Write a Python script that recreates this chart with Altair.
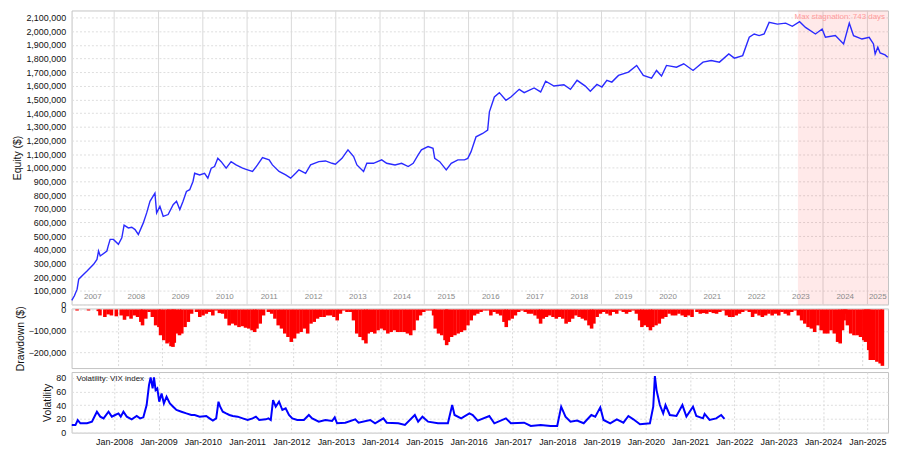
import altair as alt
import pandas as pd

# ---------------- data ----------------
# Equity curve: decimal year, value in thousands of $
EQ_T = [2007.043, 2007.103, 2007.164, 2007.200, 2007.312, 2007.388, 2007.536, 2007.612, 2007.648, 2007.686,
        2007.836, 2007.865, 2007.910, 2007.984, 2008.096, 2008.173, 2008.224, 2008.320, 2008.397, 2008.471,
        2008.545, 2008.657, 2008.733, 2008.807, 2008.919, 2008.957, 2009.031, 2009.105, 2009.217, 2009.330,
        2009.406, 2009.480, 2009.554, 2009.630, 2009.704, 2009.778, 2009.816, 2009.928, 2010.040, 2010.114,
        2010.190, 2010.265, 2010.339, 2010.415, 2010.527, 2010.639, 2010.751, 2010.899, 2011.011, 2011.123,
        2011.235, 2011.348, 2011.498, 2011.572, 2011.722, 2011.872, 2011.984, 2012.096, 2012.170, 2012.321,
        2012.433, 2012.619, 2012.769, 2012.917, 2012.993, 2013.141, 2013.276, 2013.404, 2013.478, 2013.628,
        2013.702, 2013.852, 2014.038, 2014.150, 2014.339, 2014.487, 2014.637, 2014.749, 2014.861, 2014.935,
        2015.085, 2015.197, 2015.235, 2015.348, 2015.496, 2015.608, 2015.758, 2015.908, 2015.982, 2016.056,
        2016.168, 2016.318, 2016.430, 2016.469, 2016.581, 2016.693, 2016.841, 2016.953, 2017.141, 2017.253,
        2017.478, 2017.626, 2017.738, 2017.926, 2018.150, 2018.298, 2018.448, 2018.634, 2018.747, 2018.897,
        2019.009, 2019.121, 2019.233, 2019.383, 2019.608, 2019.794, 2019.944, 2020.130, 2020.242, 2020.354,
        2020.466, 2020.691, 2020.854, 2021.065, 2021.289, 2021.475, 2021.661, 2021.872, 2021.998, 2022.186,
        2022.334, 2022.446, 2022.558, 2022.670, 2022.783, 2022.971, 2023.157, 2023.307, 2023.471, 2023.605,
        2023.830, 2023.980, 2024.054, 2024.278, 2024.464, 2024.592, 2024.688, 2024.877, 2025.040, 2025.137,
        2025.175, 2025.235, 2025.287, 2025.399, 2025.460]
EQ_V = [30, 64, 112, 185, 221, 245, 294, 330, 391, 355,
        391, 427, 476, 476, 440, 488, 580, 560, 565, 548,
        512, 597, 670, 755, 815, 670, 718, 645, 658, 730,
        755, 694, 755, 827, 840, 900, 960, 948, 960, 924,
        997, 1009, 1070, 1045, 997, 1045, 1021, 997, 985, 973,
        1021, 1075, 1058, 1021, 973, 948, 924, 960, 985, 960,
        1021, 1045, 1050, 1033, 1026, 1069, 1131, 1082, 1021, 973,
        1033, 1033, 1058, 1033, 1021, 1033, 1009, 1033, 1094, 1131,
        1155, 1142, 1070, 1045, 985, 1033, 1058, 1058, 1069, 1118,
        1227, 1251, 1276, 1409, 1518, 1550, 1494, 1518, 1574, 1550,
        1584, 1555, 1633, 1598, 1608, 1574, 1640, 1598, 1560, 1610,
        1591, 1640, 1627, 1676, 1700, 1749, 1676, 1656, 1712, 1671,
        1749, 1736, 1761, 1712, 1773, 1785, 1773, 1833, 1802, 1821,
        1955, 1979, 1967, 1979, 2064, 2051, 2058, 2035, 2069, 2027,
        1979, 2015, 1955, 1967, 1906, 2058, 1967, 1942, 1955, 1906,
        1833, 1882, 1840, 1826, 1809]

# Drawdown: decimal year, value in thousands of $
DD_T = [2007.051, 2007.312, 2007.537, 2007.574, 2007.686, 2007.761, 2007.836, 2007.948, 2008.060, 2008.135,
        2008.209, 2008.284, 2008.359, 2008.433, 2008.508, 2008.546, 2008.620, 2008.695, 2008.770, 2008.845,
        2008.919, 2008.957, 2009.031, 2009.106, 2009.143, 2009.196, 2009.241, 2009.271, 2009.330, 2009.390,
        2009.442, 2009.517, 2009.592, 2009.667, 2009.779, 2009.854, 2009.928, 2010.003, 2010.078, 2010.152,
        2010.227, 2010.302, 2010.377, 2010.451, 2010.526, 2010.601, 2010.676, 2010.750, 2010.825, 2010.900,
        2010.975, 2011.049, 2011.109, 2011.161, 2011.236, 2011.311, 2011.423, 2011.498, 2011.572, 2011.647,
        2011.722, 2011.797, 2011.871, 2011.946, 2012.021, 2012.096, 2012.170, 2012.245, 2012.320, 2012.395,
        2012.469, 2012.544, 2012.619, 2012.694, 2012.768, 2012.843, 2012.918, 2012.993, 2013.067, 2013.142,
        2013.217, 2013.291, 2013.366, 2013.441, 2013.516, 2013.590, 2013.650, 2013.703, 2013.777, 2013.852,
        2013.927, 2014.002, 2014.076, 2014.151, 2014.226, 2014.300, 2014.375, 2014.450, 2014.525, 2014.599,
        2014.674, 2014.749, 2014.824, 2014.898, 2014.973, 2015.048, 2015.123, 2015.197, 2015.235, 2015.309,
        2015.384, 2015.459, 2015.496, 2015.534, 2015.608, 2015.683, 2015.758, 2015.833, 2015.907, 2015.982,
        2016.057, 2016.131, 2016.206, 2016.281, 2016.356, 2016.430, 2016.505, 2016.579, 2016.654, 2016.729,
        2016.804, 2016.856, 2016.916, 2016.991, 2017.065, 2017.140, 2017.215, 2017.290, 2017.364, 2017.439,
        2017.514, 2017.588, 2017.641, 2017.701, 2017.775, 2017.850, 2017.925, 2018.000, 2018.074, 2018.149,
        2018.224, 2018.298, 2018.373, 2018.448, 2018.523, 2018.597, 2018.672, 2018.747, 2018.807, 2018.859,
        2018.934, 2019.009, 2019.083, 2019.158, 2019.233, 2019.308, 2019.382, 2019.457, 2019.532, 2019.606,
        2019.681, 2019.756, 2019.831, 2019.905, 2019.957, 2020.018, 2020.092, 2020.152, 2020.204, 2020.279,
        2020.354, 2020.429, 2020.503, 2020.578, 2020.653, 2020.727, 2020.802, 2020.877, 2020.952, 2021.026,
        2021.101, 2021.214, 2021.289, 2021.363, 2021.438, 2021.513, 2021.588, 2021.662, 2021.737, 2021.812,
        2021.887, 2021.961, 2022.036, 2022.111, 2022.186, 2022.260, 2022.335, 2022.410, 2022.485, 2022.559,
        2022.634, 2022.709, 2022.784, 2022.858, 2022.933, 2023.008, 2023.083, 2023.157, 2023.232, 2023.307,
        2023.381, 2023.456, 2023.531, 2023.606, 2023.680, 2023.755, 2023.830, 2023.905, 2023.979, 2024.054,
        2024.129, 2024.204, 2024.278, 2024.353, 2024.428, 2024.487, 2024.540, 2024.577, 2024.614, 2024.652,
        2024.727, 2024.801, 2024.876, 2024.951, 2025.026, 2025.063, 2025.100, 2025.138, 2025.175, 2025.250,
        2025.325, 2025.399, 2025.451]
DD_V = [-5, -5, -8, -28, -35, -23, -28, -32, -28, -48,
        -32, -43, -28, -35, -58, -74, -43, -12, -35, -74,
        -82, -120, -143, -158, -151, -171, -174, -155, -112, -120,
        -112, -82, -58, -20, -12, -35, -28, -20, -12, -28,
        -5, -17, -20, -43, -74, -66, -74, -82, -78, -85,
        -89, -97, -105, -89, -66, -28, -12, -20, -43, -74,
        -89, -112, -128, -151, -135, -112, -105, -89, -112, -66,
        -58, -43, -35, -35, -28, -28, -35, -51, -20, -5,
        -12, -12, -51, -112, -128, -143, -158, -112, -105, -112,
        -97, -89, -97, -112, -105, -97, -105, -105, -105, -112,
        -120, -97, -51, -28, -12, -5, -5, -28, -89, -112,
        -120, -143, -166, -151, -128, -120, -112, -105, -97, -74,
        -51, -28, -20, -12, -5, -5, -28, -12, -20, -28,
        -58, -82, -51, -43, -28, -12, -5, -12, -20, -20,
        -28, -43, -66, -43, -35, -28, -35, -43, -35, -43,
        -66, -58, -43, -28, -35, -43, -51, -74, -89, -66,
        -35, -20, -12, -20, -28, -12, -20, -5, -12, -20,
        -12, -5, -20, -51, -82, -74, -82, -97, -82, -74,
        -66, -43, -35, -20, -28, -28, -20, -28, -35, -28,
        -35, -12, -20, -17, -20, -12, -17, -20, -12, -5,
        -28, -35, -35, -28, -20, -12, -5, -12, -35, -20,
        -28, -35, -28, -20, -28, -20, -28, -12, -20, -28,
        -12, -5, -28, -51, -66, -82, -89, -105, -74, -97,
        -112, -112, -97, -112, -151, -158, -97, -51, -20, -74,
        -112, -120, -120, -128, -143, -151, -128, -189, -235, -235,
        -243, -251, -262]

# VIX index: decimal year, value
VIX_T = [2007.043, 2007.126, 2007.178, 2007.238, 2007.387, 2007.499, 2007.574, 2007.611, 2007.686, 2007.761,
         2007.873, 2007.948, 2008.022, 2008.097, 2008.149, 2008.209, 2008.284, 2008.396, 2008.508, 2008.583,
         2008.658, 2008.732, 2008.785, 2008.822, 2008.867, 2008.897, 2008.934, 2008.972, 2009.016, 2009.069,
         2009.121, 2009.181, 2009.256, 2009.330, 2009.405, 2009.517, 2009.629, 2009.741, 2009.816, 2009.928,
         2010.078, 2010.152, 2010.227, 2010.302, 2010.354, 2010.392, 2010.451, 2010.526, 2010.601, 2010.676,
         2010.788, 2010.900, 2011.012, 2011.124, 2011.199, 2011.274, 2011.423, 2011.483, 2011.535, 2011.587,
         2011.647, 2011.722, 2011.797, 2011.871, 2011.946, 2012.021, 2012.133, 2012.282, 2012.394, 2012.469,
         2012.618, 2012.768, 2012.917, 2012.977, 2013.029, 2013.216, 2013.441, 2013.515, 2013.777, 2013.889,
         2014.076, 2014.151, 2014.412, 2014.562, 2014.786, 2014.861, 2014.958, 2015.085, 2015.309, 2015.533,
         2015.630, 2015.683, 2015.832, 2016.019, 2016.094, 2016.206, 2016.467, 2016.580, 2016.841, 2016.953,
         2017.252, 2017.402, 2017.626, 2017.850, 2017.999, 2018.089, 2018.186, 2018.299, 2018.448, 2018.598,
         2018.770, 2018.859, 2018.972, 2019.046, 2019.196, 2019.345, 2019.495, 2019.607, 2019.719, 2019.869,
         2020.093, 2020.168, 2020.205, 2020.242, 2020.317, 2020.392, 2020.444, 2020.541, 2020.691, 2020.825,
         2020.915, 2021.064, 2021.139, 2021.289, 2021.326, 2021.438, 2021.588, 2021.700, 2021.774]
VIX_V = [11.2, 11.0, 18.4, 13.6, 13.6, 16.0, 25.7, 30.5, 23.3, 20.8,
         30.5, 23.3, 25.7, 28.0, 23.3, 30.5, 23.3, 19.4, 24.2, 20.8,
         22.3, 40.2, 69.3, 80.5, 64.5, 80.5, 62.0, 64.5, 45.1, 57.2,
         42.7, 52.4, 42.7, 37.8, 33.0, 30.5, 28.0, 25.7, 25.7, 23.3,
         24.2, 20.8, 17.5, 20.8, 45.1, 37.8, 30.5, 28.0, 25.7, 24.2,
         23.3, 20.8, 18.4, 20.8, 23.3, 18.4, 19.4, 20.8, 18.4, 47.5,
         37.8, 45.1, 33.0, 35.4, 25.7, 20.8, 18.4, 18.4, 25.7, 20.8,
         16.0, 18.4, 17.0, 22.3, 13.6, 14.5, 19.4, 14.5, 18.4, 13.6,
         20.8, 14.5, 13.6, 11.2, 25.7, 16.0, 23.3, 16.0, 13.6, 13.6,
         40.2, 25.7, 20.8, 28.0, 25.7, 17.5, 24.2, 13.6, 20.8, 13.6,
         14.5, 9.7, 11.2, 9.7, 9.7, 37.8, 23.3, 16.0, 17.5, 13.6,
         25.7, 23.3, 36.8, 18.4, 13.6, 19.4, 14.5, 24.2, 19.4, 12.1,
         13.6, 37.8, 82.4, 62.0, 40.2, 28.0, 40.2, 25.7, 24.2, 40.2,
         23.3, 37.8, 24.2, 20.8, 27.2, 18.4, 20.8, 25.7, 19.9]

YEARS = list(range(2007, 2026))
X_START = (2007, 1, 15)
X_END = (2025, 6, 20)
STAG_START = (2023, 6, 8)
STAG_LABEL = "Max stagnation: 743 days"
VIX_LABEL = "Volatility: VIX index"


def dec_to_ts(y):
    yi = int(y)
    a = pd.Timestamp(year=yi, month=1, day=1)
    b = pd.Timestamp(year=yi + 1, month=1, day=1)
    return (a + (b - a) * (y - yi)).floor("h")


def ts(t):
    return pd.Timestamp(year=t[0], month=t[1], day=t[2])


eq_df = pd.DataFrame({"t": [dec_to_ts(v) for v in EQ_T], "v": [v * 1000 for v in EQ_V]})
dd_df = pd.DataFrame({"t": [dec_to_ts(v) for v in DD_T], "v": [v * 1000 for v in DD_V]})
vix_df = pd.DataFrame({"t": [dec_to_ts(v) for v in VIX_T], "v": VIX_V})

x0, x1 = ts(X_START), ts(X_END)
mids = []
for yr in YEARS:
    a = max(pd.Timestamp(year=yr, month=1, day=1), x0)
    b = min(pd.Timestamp(year=yr + 1, month=1, day=1), x1)
    mids.append(a + (b - a) / 2)
year_df = pd.DataFrame({"t": mids, "label": [str(y) for y in YEARS]})
jan_df = pd.DataFrame({"t": [pd.Timestamp(year=y, month=1, day=1) for y in YEARS[1:]]})
stag_df = pd.DataFrame({"s": [ts(STAG_START)], "e": [x1], "label": [STAG_LABEL]})

W = 822
H_EQ, H_DD, H_VX = 296, 60, 61

xdomain = [alt.DateTime(year=X_START[0], month=X_START[1], date=X_START[2]),
           alt.DateTime(year=X_END[0], month=X_END[1], date=X_END[2])]
xscale = alt.Scale(domain=xdomain, nice=False)
tick_vals = [alt.DateTime(year=y, month=1, date=1) for y in YEARS[1:]]

GRID = "#d9d9d9"
HGRID = "#dedede"


def vgrid(dash):
    kw = {"strokeDash": dash} if dash else {}
    return alt.Chart(jan_df).mark_rule(color=GRID, strokeWidth=1, **kw).encode(
        x=alt.X("t:T", scale=xscale, axis=None))


# ---------------- equity panel ----------------
eq_y_axis = alt.Axis(values=list(range(0, 2100001, 100000)), format=",.0f", title="Equity ($)",
                     grid=True, gridDash=[2, 2], gridColor=HGRID, ticks=False, domain=False,
                     labelPadding=6, titlePadding=3)

stag_rect = alt.Chart(stag_df).mark_rect(color="#ff0000", opacity=0.085).encode(
    x=alt.X("s:T", scale=xscale, axis=None),
    x2="e:T",
    y=alt.value(0), y2=alt.value(H_EQ),
)
eq_line = alt.Chart(eq_df).mark_line(color="#2a2aff", strokeWidth=1.4).encode(
    x=alt.X("t:T", scale=xscale, axis=None),
    y=alt.Y("v:Q", scale=alt.Scale(domain=[0, 2150900], nice=False, zero=True), axis=eq_y_axis),
)
year_txt = alt.Chart(year_df).mark_text(fontSize=8, color="#8a8a8a", baseline="middle").encode(
    x=alt.X("t:T", scale=xscale, axis=None),
    y=alt.value(H_EQ - 8),
    text="label:N",
)
stag_txt = alt.Chart(stag_df).mark_text(fontSize=8, color="#ff9c9c", align="right",
                                        baseline="middle", dx=-3).encode(
    x=alt.X("e:T", scale=xscale, axis=None),
    y=alt.value(7),
    text="label:N",
)
equity = alt.layer(vgrid(None), stag_rect, eq_line, year_txt, stag_txt).properties(width=W, height=H_EQ)

# ---------------- drawdown panel ----------------
dd_bars = alt.Chart(dd_df).mark_bar(color="#ff0000", size=3.6).encode(
    x=alt.X("t:T", scale=xscale, axis=None),
    y=alt.Y("v:Q", scale=alt.Scale(domain=[-272300, 4600], nice=False, zero=False),
            axis=alt.Axis(values=[0, -100000, -200000], format=",.0f", title="Drawdown ($)",
                          grid=True, gridDash=[2, 2], gridColor=HGRID, ticks=False,
                          domain=False, labelPadding=6, titlePadding=3)),
)
dd = alt.layer(vgrid([2, 2]), dd_bars).properties(width=W, height=H_DD)

# ---------------- volatility panel ----------------
vix_line = alt.Chart(vix_df).mark_line(color="#0000ff", strokeWidth=2).encode(
    x=alt.X("t:T", scale=xscale,
            axis=alt.Axis(values=tick_vals, format="%b-%Y", labels=True, ticks=False, domain=False,
                          grid=True, gridDash=[2, 2], gridColor=GRID, title=None, labelPadding=5,
                          labelFlush=False, labelOverlap=False, labelFontSize=9)),
    y=alt.Y("v:Q", scale=alt.Scale(domain=[0, 88.4], nice=False, zero=True),
            axis=alt.Axis(values=[0, 20, 40, 60, 80], title="Volatility", grid=True,
                          gridDash=[2, 2], gridColor=HGRID, ticks=False, domain=False,
                          labelPadding=6, titlePadding=3)),
)
vix_txt = alt.Chart(pd.DataFrame({"label": [VIX_LABEL]})).mark_text(
    fontSize=8, color="#222222", align="left", baseline="middle").encode(
    x=alt.value(5), y=alt.value(7), text="label:N")
vix = alt.layer(vix_line, vix_txt).properties(width=W, height=H_VX)

chart = alt.vconcat(equity, dd, vix, spacing=4, bounds="flush").properties(
    padding={"left": 4, "top": 0, "right": 0, "bottom": 0}
).configure(font="Liberation Sans").configure_view(
    stroke="#c4c4c4", strokeWidth=1
).configure_axis(
    labelFontSize=9, titleFontSize=10.5, labelColor="#111111", titleColor="#111111",
    titleFontWeight="normal"
)

chart.save("out.html", embed_options={"renderer": "svg", "actions": False})
